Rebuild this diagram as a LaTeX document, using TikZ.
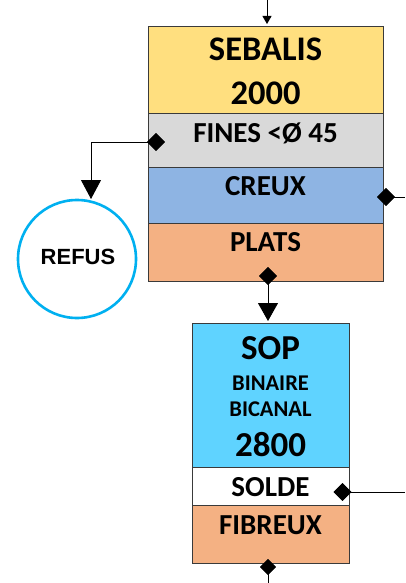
\documentclass[tikz,border=0pt]{standalone}
\usepackage{fontspec}
\setmainfont{Carlito}
\newfontfamily\arialfont{Liberation Sans}
\usetikzlibrary{arrows.meta,shapes.geometric}
\definecolor{cyel}{HTML}{FFDF7F}
\definecolor{cgry}{HTML}{D9D9D9}
\definecolor{cblu}{HTML}{8EB4E3}
\definecolor{corg}{HTML}{F4B183}
\definecolor{csop}{HTML}{5FD3FF}
\definecolor{ccir}{HTML}{00B0F0}
\definecolor{cbrd}{HTML}{3A3A3A}
\tikzset{
  sec/.style={draw=cbrd, line width=0.9pt, rectangle, inner sep=0pt, anchor=center},
  lbl/.style={inner sep=0pt, anchor=center, font=\bfseries},
  dia/.style={diamond, fill=black, inner sep=0pt, minimum width=18pt, minimum height=18pt},
  conn/.style={draw=black, line width=0.9pt},
}
\begin{document}
\begin{tikzpicture}[x=1pt,y=-1pt]
\useasboundingbox (0,0) rectangle (405,583);
% SEBALIS block
\node[sec, fill=cyel, minimum width=235pt, minimum height=87pt] (sebA) at (265.5,69.5) {};
\node[sec, fill=cgry, minimum width=235pt, minimum height=54pt] (sebB) at (265.5,140) {};
\node[sec, fill=cblu, minimum width=235pt, minimum height=56pt] (sebC) at (265.5,195) {};
\node[sec, fill=corg, minimum width=235pt, minimum height=58pt] (sebD) at (265.5,252) {};
\node[lbl, font=\bfseries\fontsize{34.5}{36}\selectfont] (tSeb) at (265.5,49) {SEBALIS};
\node[lbl, font=\bfseries\fontsize{34.5}{36}\selectfont] (tSebN) at (265.5,93) {2000};
\node[lbl, font=\bfseries\fontsize{29}{30}\selectfont] (tFin) at (265.5,133) {FINES <Ø 45};
\node[lbl, font=\bfseries\fontsize{29}{30}\selectfont] (tCre) at (265.5,186) {CREUX};
\node[lbl, font=\bfseries\fontsize{29}{30}\selectfont] (tPla) at (265.5,242) {PLATS};
% SOP block
\node[sec, fill=csop, minimum width=157pt, minimum height=144pt] (sopA) at (270.5,395) {};
\node[sec, fill=white, minimum width=157pt, minimum height=38pt] (sopB) at (270.5,486) {};
\node[sec, fill=corg, minimum width=157pt, minimum height=58pt] (sopC) at (270.5,534) {};
\node[lbl, font=\bfseries\fontsize{35}{36}\selectfont] (tSop) at (270.5,348) {SOP};
\node[lbl, font=\bfseries\fontsize{22.5}{24}\selectfont] (tBin) at (270.5,383) {BINAIRE};
\node[lbl, font=\bfseries\fontsize{22.5}{24}\selectfont] (tBic) at (270.5,409) {BICANAL};
\node[lbl, font=\bfseries\fontsize{35}{36}\selectfont] (tSopN) at (270.5,445) {2800};
\node[lbl, font=\bfseries\fontsize{29}{30}\selectfont] (tSol) at (270.5,487) {SOLDE};
\node[lbl, font=\bfseries\fontsize{29}{30}\selectfont] (tFib) at (270.5,525) {FIBREUX};
% REFUS circle
\node[circle, draw=ccir, line width=2.6pt, minimum size=118pt, inner sep=0pt] (refus) at (77,259) {};
\node[lbl, font=\arialfont\bfseries\fontsize{22}{24}\selectfont] (tRef) at (78,257) {REFUS};
% diamonds
\node[dia] (dFin) at (156,142) {};
\node[dia] (dCre) at (386,197) {};
\node[dia] (dPla) at (268,276) {};
\node[dia] (dSol) at (342.5,492) {};
\node[dia, minimum width=16pt, minimum height=16pt] (dFib) at (268,567) {};
% free ends
\coordinate (inTop) at (267,0);
\coordinate (inTopEnd) at (267,24);
\coordinate (refBend) at (91,142);
\coordinate (refEnd) at (91,199);
\coordinate (creEnd) at (405,197);
\coordinate (sopIn) at (268,321);
\coordinate (solEnd) at (405,492);
\coordinate (fibEnd) at (268,583);
% connectors
\draw[conn, -{Triangle[length=8pt,width=9pt]}] (inTop) -- (inTopEnd);
\draw[conn, -{Triangle[length=19pt,width=20pt]}] (dFin.center) -- (refBend) -- (refEnd);
\draw[conn] (dCre.center) -- (creEnd);
\draw[conn, -{Triangle[length=18pt,width=20pt]}] (dPla.center) -- (sopIn);
\draw[conn] (dSol.center) -- (solEnd);
\draw[conn] (dFib.center) -- (fibEnd);
% redraw diamonds on top
\node[dia] at (dFin) {};
\node[dia] at (dCre) {};
\node[dia] at (dPla) {};
\node[dia] at (dSol) {};
\node[dia, minimum width=16pt, minimum height=16pt] at (dFib) {};
\end{tikzpicture}
\end{document}
